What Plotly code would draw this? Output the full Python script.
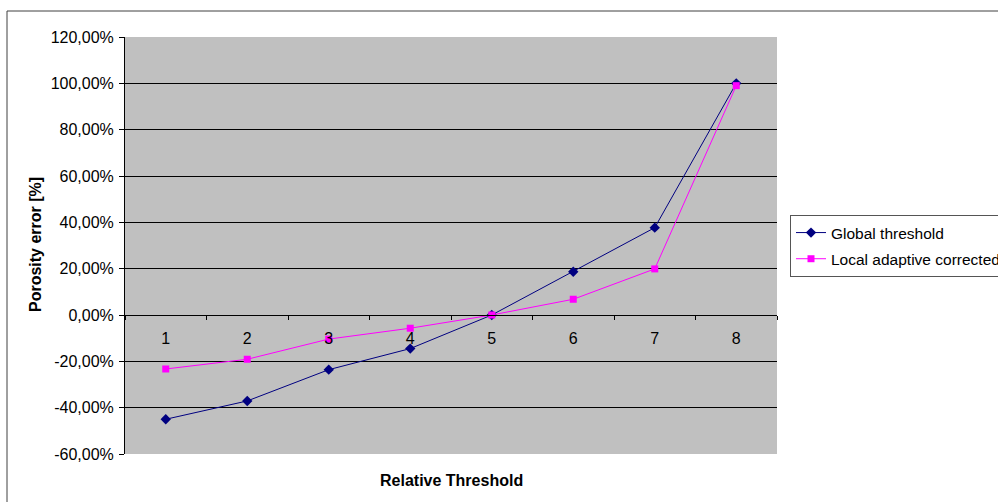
import plotly.graph_objects as go

# Relative threshold steps (category axis)
thresholds = ["1", "2", "3", "4", "5", "6", "7", "8"]

# Porosity error in percent for each method
global_threshold = [-45.0, -37.1, -23.6, -14.5, 0.0, 18.7, 37.7, 100.0]
local_adaptive_corrected = [-23.3, -19.1, -10.4, -5.7, 0.0, 6.8, 19.9, 99.0]

# Y axis ticks, shown with a decimal comma
y_ticks = [-60, -40, -20, 0, 20, 40, 60, 80, 100, 120]
y_tick_text = [f"{v},00%" for v in y_ticks]

FONT = "Liberation Sans, Arial, sans-serif"

fig = go.Figure()
fig.add_trace(go.Scatter(
    x=thresholds, y=global_threshold, name="Global threshold",
    legendgroup="global",
    mode="lines+markers",
    line=dict(color="#000080", width=1),
    marker=dict(symbol="diamond", size=8, color="#000080"),
))
fig.add_trace(go.Scatter(
    x=thresholds, y=local_adaptive_corrected, name="Local adaptive corrected",
    legendgroup="local",
    mode="lines+markers",
    line=dict(color="#FF00FF", width=1),
    marker=dict(symbol="square", size=7, color="#FF00FF"),
))

W, H = 998, 502
L, R, T, B = 125, 777, 37, 454
pw, ph = R - L, B - T


def px(x):
    return (x - L) / pw


def py(y):
    return (B - y) / ph


fig.update_layout(
    width=W, height=H,
    margin=dict(l=L, r=W - R, t=T, b=H - B, autoexpand=False),
    paper_bgcolor="white",
    plot_bgcolor="#C0C0C0",
    font=dict(family=FONT, size=16, color="black"),
    showlegend=True,
    legend=dict(
        x=px(790), y=py(215), xanchor="left", yanchor="top",
        bgcolor="white", bordercolor="#555555", borderwidth=1,
        font=dict(family=FONT, size=15.5, color="black"),
        tracegroupgap=3,
    ),
    xaxis=dict(
        type="category",
        range=[-0.5, 7.5],
        anchor="free", position=1 / 3,
        showline=True, linecolor="black", linewidth=1,
        ticks="outside", ticklen=4, tickcolor="black",
        tickson="boundaries",
        showgrid=False,
        ticklabelstandoff=9,
        tickfont=dict(family=FONT, size=16),
    ),
    yaxis=dict(
        range=[-60, 120],
        tickvals=y_ticks, ticktext=y_tick_text,
        showline=True, linecolor="black", linewidth=1,
        ticks="outside", ticklen=5, tickcolor="black",
        ticklabelstandoff=2,
        showgrid=True, gridcolor="black", gridwidth=1,
        zeroline=False,
        tickfont=dict(family=FONT, size=16),
    ),
    shapes=[
        # outer chart frame
        dict(type="rect", xref="paper", yref="paper",
             x0=px(7), x1=px(W + 20), y0=py(H + 20), y1=py(11),
             line=dict(color="#404040", width=1), fillcolor="rgba(0,0,0,0)",
             layer="below"),
    ],
    annotations=[
        dict(text="<b>Relative Threshold</b>", xref="paper", yref="paper",
             x=px(451), y=py(480), xanchor="center", yanchor="middle",
             showarrow=False, font=dict(family=FONT, size=16)),
        dict(text="<b>Porosity error [%]</b>", xref="paper", yref="paper",
             x=px(35), y=py(245), xanchor="center", yanchor="middle",
             showarrow=False, textangle=-90,
             font=dict(family=FONT, size=16)),
    ],
)

fig.write_html("out.html")
